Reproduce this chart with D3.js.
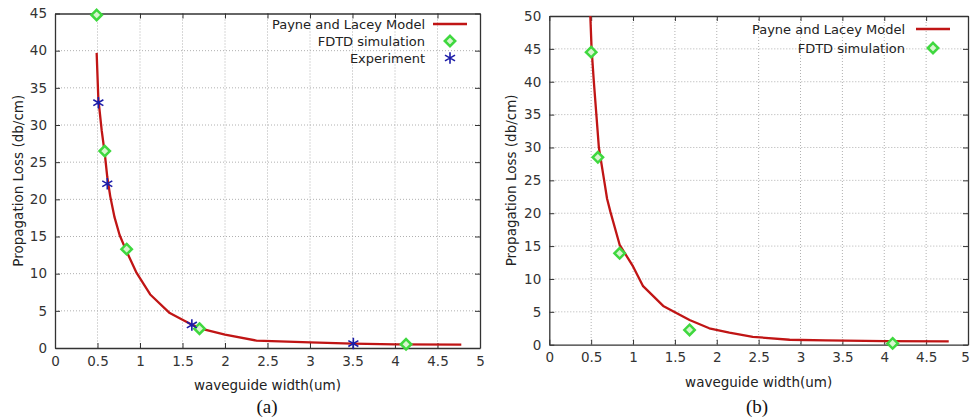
<!DOCTYPE html>
<html><head><meta charset="utf-8">
<script src="https://cdn.jsdelivr.net/npm/d3@7"></script>
<style>
body{margin:0;background:#fff;}
svg{display:block;}
text{font-family:"DejaVu Sans",Verdana,sans-serif;}
</style></head>
<body><svg id="c" width="970" height="419"></svg>
<script>
// Panel (a)
const modelA_x = [0.49,0.51,0.55,0.585,0.615,0.65,0.70,0.76,0.83,0.96,1.12,1.35,1.6,1.75,2.0,2.37,3.0,3.5,4.0,4.78];
const modelA_y = [39.7,33.5,29.2,26.2,23.0,20.4,17.6,15.2,13.3,10.1,7.2,4.7,3.2,2.5,1.8,1.0,0.75,0.6,0.5,0.45];
const fdtdA_x = [0.49,0.585,0.843,1.70,4.13];
const fdtdA_y = [44.8,26.5,13.3,2.6,0.5];
const expA_x = [0.51,0.615,1.61,3.51];
const expA_y = [33.0,22.1,3.1,0.6];
// Panel (b)
const modelB_x = [0.49,0.505,0.532,0.562,0.592,0.655,0.69,0.73,0.84,1.0,1.12,1.36,1.675,1.91,2.15,2.43,2.87,3.3,4.0,4.77];
const modelB_y = [50,45,40,35,30,25,22.2,20.2,15.2,11.9,8.9,5.9,3.75,2.5,1.85,1.2,0.75,0.65,0.55,0.5];
const fdtdB_x = [0.5,0.58,0.84,1.675,4.1];
const fdtdB_y = [44.5,28.5,13.9,2.25,0.2];
// Ticks / labels
const xTicks = [0,0.5,1,1.5,2,2.5,3,3.5,4,4.5,5];
const yTicksA = [0,5,10,15,20,25,30,35,40,45];
const yTicksB = [0,5,10,15,20,25,30,35,40,45,50];
const legendA = ["Payne and Lacey Model","FDTD simulation","Experiment"];
const legendB = ["Payne and Lacey Model","FDTD simulation"];
const xTitle = "waveguide width(um)";
const yTitle = "Propagation Loss (db/cm)";
const captions = ["(a)","(b)"];

const svg = d3.select("#c");
const RED="#c01515", GREEN="#3fd83f", BLUE="#1c1ca8";

function diamond(g,x,y){
  const s=5.2;
  g.append("path").attr("d",`M${x},${y-s}L${x+s},${y}L${x},${y+s}L${x-s},${y}Z`)
   .attr("fill","#d8f5d0").attr("stroke",GREEN).attr("stroke-width",2.5);
}
function star(g,x,y){
  const r=5.8;
  const p=[];
  for(let k=0;k<3;k++){const a=Math.PI/2+k*Math.PI/3;p.push(`M${x-r*Math.cos(a)},${y-r*Math.sin(a)}L${x+r*Math.cos(a)},${y+r*Math.sin(a)}`);}
  g.append("path").attr("d",p.join("")).attr("stroke",BLUE).attr("stroke-width",1.6).attr("fill","none");
}

function panel(cfg){
  const g = svg.append("g");
  const x = d3.scaleLinear().domain([0,5]).range([cfg.x0,cfg.x1]);
  const y = d3.scaleLinear().domain([0,cfg.ymax]).range([cfg.y1,cfg.y0]);
  // grid
  g.append("g").selectAll("line").data(xTicks.slice(1,-1)).join("line")
    .attr("x1",d=>x(d)).attr("x2",d=>x(d)).attr("y1",cfg.y0).attr("y2",cfg.y1)
    .attr("stroke","#b0b0b0").attr("stroke-width",1).attr("stroke-dasharray","1,2");
  g.append("g").selectAll("line").data(cfg.yTicks.slice(1,-1)).join("line")
    .attr("y1",d=>y(d)).attr("y2",d=>y(d)).attr("x1",cfg.x0).attr("x2",cfg.x1)
    .attr("stroke","#b0b0b0").attr("stroke-width",1).attr("stroke-dasharray","1,2");
  // axes
  const fmt = d=>String(d);
  const ax = [
    g.append("g").attr("transform",`translate(0,${cfg.y1})`).call(d3.axisBottom(x).tickValues(xTicks).tickFormat(fmt).tickSizeInner(-5).tickSizeOuter(0).tickPadding(8)),
    g.append("g").attr("transform",`translate(0,${cfg.y0})`).call(d3.axisTop(x).tickValues(xTicks).tickFormat("").tickSizeInner(-5).tickSizeOuter(0)),
    g.append("g").attr("transform",`translate(${cfg.x0},0)`).call(d3.axisLeft(y).tickValues(cfg.yTicks).tickFormat(fmt).tickSizeInner(-5).tickSizeOuter(0).tickPadding(8)),
    g.append("g").attr("transform",`translate(${cfg.x1},0)`).call(d3.axisRight(y).tickValues(cfg.yTicks).tickFormat("").tickSizeInner(-5).tickSizeOuter(0))
  ];
  ax.forEach(a=>{
    a.select(".domain").attr("stroke","#333").attr("stroke-width",1.3);
    a.selectAll(".tick line").attr("stroke","#333");
    a.selectAll(".tick text").attr("fill","#333").style("font-size","13.5px").style("font-family","'DejaVu Sans',Verdana,sans-serif");
  });
  // keep the last x tick label inside the page
  if(cfg.lastShift) ax[0].selectAll(".tick text").filter(d=>d===5).attr("dx",cfg.lastShift);
  // model line
  const pts = cfg.mx.map((v,i)=>[v,cfg.my[i]]);
  g.append("path").datum(pts).attr("d",d3.line().x(d=>x(d[0])).y(d=>y(d[1])))
    .attr("fill","none").attr("stroke",RED).attr("stroke-width",2.3).attr("stroke-linejoin","round");
  cfg.fx.forEach((v,i)=>diamond(g,x(v),y(cfg.fy[i])));
  if(cfg.ex) cfg.ex.forEach((v,i)=>star(g,x(v),y(cfg.ey[i])));
  // legend
  cfg.legend.forEach((t,i)=>{
    const ly = cfg.ly + i*cfg.lstep;
    g.append("text").attr("x",cfg.ltx).attr("y",ly).attr("text-anchor","end").attr("dy","0.35em")
      .attr("fill","#222").style("font-size","13px").text(t);
    const mx = cfg.lmx;
    if(i===0) g.append("line").attr("x1",mx-17).attr("x2",mx+17).attr("y1",ly).attr("y2",ly).attr("stroke",RED).attr("stroke-width",2.3);
    if(i===1) diamond(g,mx,ly);
    if(i===2) star(g,mx,ly);
  });
  // titles
  g.append("text").attr("x",(cfg.x0+cfg.x1)/2).attr("y",cfg.y1+42).attr("text-anchor","middle")
    .attr("fill","#222").style("font-size","13.5px").text(xTitle);
  g.append("text").attr("transform",`translate(${cfg.ytx},${(cfg.y0+cfg.y1)/2}) rotate(-90)`).attr("text-anchor","middle").attr("dy","0.35em")
    .attr("fill","#222").style("font-size","13.5px").text(yTitle);
  g.append("text").attr("x",cfg.cx).attr("y",413).attr("text-anchor","middle")
    .attr("fill","#111").style("font-family","'Liberation Serif','Times New Roman',serif").style("font-size","19px").text(cfg.cap);
}

panel({x0:55,x1:480,y0:13.5,y1:348,ymax:45,yTicks:yTicksA,mx:modelA_x,my:modelA_y,fx:fdtdA_x,fy:fdtdA_y,ex:expA_x,ey:expA_y,
  legend:legendA,ly:24,lstep:17,ltx:425,lmx:450,ytx:18,cx:267,cap:captions[0]});
panel({x0:549.3,x1:968,y0:16,y1:344.7,ymax:50,yTicks:yTicksB,mx:modelB_x,my:modelB_y,fx:fdtdB_x,fy:fdtdB_y,
  legend:legendB,ly:29,lstep:19,ltx:905,lmx:933,ytx:511,cx:757,cap:captions[1],lastShift:-3});
</script></body></html>
